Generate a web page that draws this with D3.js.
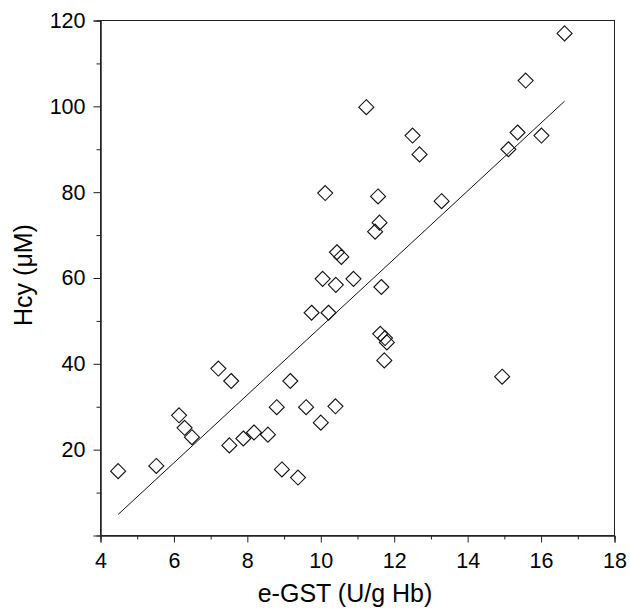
<!DOCTYPE html>
<html>
<head>
<meta charset="utf-8">
<script src="https://cdn.jsdelivr.net/npm/d3@7"></script>
<style>
  body { margin: 0; background: #fff; }
  svg text { font-family: "Liberation Sans", Arial, sans-serif; fill: #000; }
</style>
</head>
<body>
<svg id="canvas"></svg>
<script>
// Data
var egst = [4.48, 5.52, 6.14, 6.29, 6.49, 7.21, 7.56, 7.51, 7.89, 8.18, 8.56, 8.8, 9.17, 8.94, 9.38,
  9.6, 9.75, 10.0, 10.05, 10.12, 10.21, 10.4, 10.41, 10.44, 10.56, 10.89, 11.24, 11.48, 11.56, 11.6,
  11.65, 11.62, 11.75, 11.8, 11.73, 12.5, 12.69, 13.29, 14.94, 15.11, 15.36, 15.58, 16.01, 16.64];
var hcy = [15.0, 16.2, 28, 25.1, 22.9, 38.9, 36, 21, 22.6, 24, 23.5, 29.9, 36, 15.4, 13.5,
  29.9, 51.9, 26.3, 59.8, 79.8, 51.9, 30.1, 58.4, 66, 64.9, 59.8, 99.8, 70.8, 79, 72.9,
  57.9, 47, 46, 45, 40.8, 93.2, 88.8, 77.9, 37, 90, 93.9, 106, 93.2, 117];

// Regression line end points
var fitX = [4.48, 16.64];
var fitY = [4.9, 101.2];

var xTicks = [4, 6, 8, 10, 12, 14, 16, 18];
var xMinorTicks = [5, 7, 9, 11, 13, 15, 17];
var yTicks = [20, 40, 60, 80, 100, 120];
var yMinorTicks = [10, 30, 50, 70, 90, 110];

var canvasWidth = 630;
var canvasHeight = 610;

var plot = { left: 100.5, right: 614.5, top: 20.5, bottom: 535.5 };

var svg = d3.select('#canvas')
  .attr('width', canvasWidth)
  .attr('height', canvasHeight);

var x = d3.scaleLinear().domain([4, 18]).range([plot.left, plot.right]);
var y = d3.scaleLinear().domain([0, 120]).range([plot.bottom, plot.top]);

// Frame
svg.append('rect')
  .attr('x', plot.left)
  .attr('y', plot.top)
  .attr('width', plot.right - plot.left)
  .attr('height', plot.bottom - plot.top)
  .attr('fill', 'none')
  .attr('stroke', '#222')
  .attr('stroke-width', 1);

// Bottom axis
svg.append('g')
  .attr('transform', 'translate(0,' + plot.bottom + ')')
  .call(d3.axisBottom(x).tickValues(xTicks).tickSize(7).tickPadding(10).tickFormat(d3.format('d')));
svg.append('g')
  .attr('transform', 'translate(0,' + plot.bottom + ')')
  .call(d3.axisBottom(x).tickValues(xMinorTicks).tickSize(4).tickFormat(''));

// Left axis
svg.append('g')
  .attr('transform', 'translate(' + plot.left + ',0)')
  .call(d3.axisLeft(y).tickValues(yTicks).tickSize(7).tickPadding(8).tickFormat(d3.format('d')));
svg.append('g')
  .attr('transform', 'translate(' + plot.left + ',0)')
  .call(d3.axisLeft(y).tickValues(yMinorTicks).tickSize(4).tickFormat(''));

svg.selectAll('.domain').attr('stroke', '#222');
svg.selectAll('.tick line').attr('stroke', '#222');
svg.selectAll('.tick text')
  .attr('font-size', '21.5px')
  .attr('font-family', '"Liberation Sans", Arial, sans-serif')
  .attr('fill', '#000');

// Regression line
svg.append('line')
  .attr('x1', x(fitX[0]))
  .attr('y1', y(fitY[0]))
  .attr('x2', x(fitX[1]))
  .attr('y2', y(fitY[1]))
  .attr('stroke', '#111')
  .attr('stroke-width', 1);

// Diamond markers
var r = 7.5;
svg.append('g')
  .selectAll('path')
  .data(egst.map(function(d, i) { return [d, hcy[i]]; }))
  .enter()
  .append('path')
  .attr('d', function(d) {
    var cx = x(d[0]), cy = y(d[1]);
    return 'M' + cx + ',' + (cy - r) + 'L' + (cx + r) + ',' + cy +
      'L' + cx + ',' + (cy + r) + 'L' + (cx - r) + ',' + cy + 'Z';
  })
  .attr('fill', 'none')
  .attr('stroke', '#111')
  .attr('stroke-width', 1.1);

// Axis titles
svg.append('text')
  .attr('x', 345)
  .attr('y', 602)
  .attr('text-anchor', 'middle')
  .attr('font-size', '25px')
  .text('e-GST (U/g Hb)');

svg.append('text')
  .attr('transform', 'translate(32,275) rotate(-90)')
  .attr('text-anchor', 'middle')
  .attr('font-size', '25px')
  .text('Hcy (\u03bcM)');
</script>
</body>
</html>
